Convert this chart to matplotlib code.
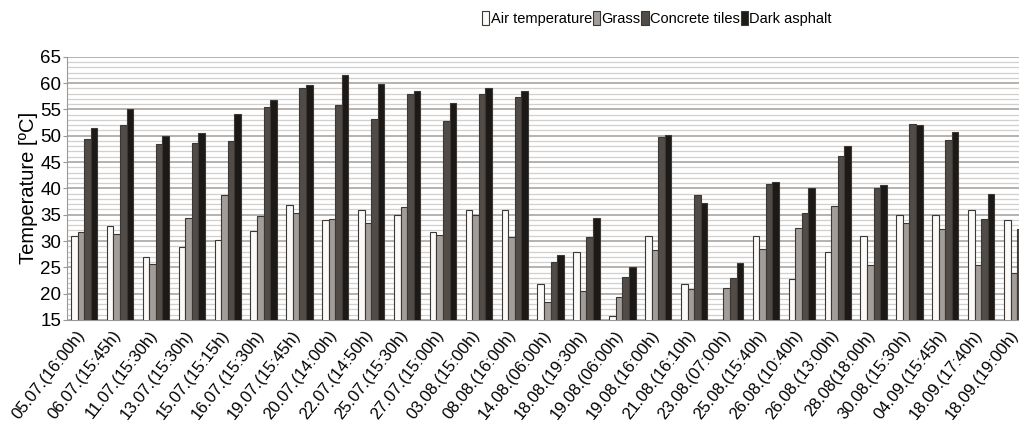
import matplotlib.pyplot as plt
from matplotlib.ticker import MultipleLocator
import numpy as np

labels = ['05.07.(16:00h)', '06.07.(15:45h)', '11.07.(15:30h)', '13.07.(15:30h)',
          '15.07.(15:15h)', '16.07.(15:30h)', '19.07.(15:45h)', '20.07.(14:00h)',
          '22.07.(14:50h)', '25.07.(15:30h)', '27.07.(15:00h)', '03.08.(15:00h)',
          '08.08.(16:00h)', '14.08.(06:00h)', '18.08.(19:30h)', '19.08.(06:00h)',
          '19.08.(16:00h)', '21.08.(16:10h)', '23.08.(07:00h)', '25.08.(15:40h)',
          '26.08.(10:40h)', '26.08.(13:00h)', '28.08(18:00h)', '30.08.(15:30h)',
          '04.09.(15:45h)', '18.09.(17:40h)', '18.09.(19:00h)']

air = [30.9, 32.9, 27.0, 28.9, 30.2, 31.9, 36.8, 34.0, 35.9, 34.9, 31.8, 35.9,
       35.9, 21.9, 27.9, 15.8, 30.9, 21.9, np.nan, 30.9, 22.8, 27.9, 30.9, 34.9,
       34.9, 35.9, 33.9]
grass = [31.8, 31.3, 25.6, 34.3, 38.8, 34.7, 35.4, 34.1, 33.4, 36.5, 31.2, 34.9,
         30.8, 18.4, 20.6, 19.4, 28.2, 20.8, 21.1, 28.4, 32.5, 36.7, 25.4, 33.5,
         32.3, 25.4, 23.9]
concrete = [49.4, 52.1, 48.4, 48.7, 48.9, 55.5, 59.1, 55.9, 53.2, 58.0, 52.8, 57.9,
            57.3, 26.1, 30.8, 23.2, 49.7, 38.7, 23.0, 40.8, 35.3, 46.2, 40.1, 52.3,
            49.1, 34.1, 32.3]
asphalt = [51.5, 55.1, 49.9, 50.6, 54.1, 56.8, 59.6, 61.5, 59.9, 58.4, 56.2, 59.1,
           58.4, 27.3, 34.3, 25.1, 50.1, 37.2, 25.9, 41.3, 40.1, 48.1, 40.6, 52.1,
           50.7, 39.0, 36.0]

series = [('Air temperature', air, '#fcfaf8'),
          ('Grass', grass, '#a29d99'),
          ('Concrete tiles', concrete, '#524c48'),
          ('Dark asphalt', asphalt, '#1c1917')]

plt.rcParams['font.family'] = ['Liberation Sans', 'DejaVu Sans']

fig = plt.figure(figsize=(10.2, 4.33), dpi=100)
ax = fig.add_axes([0.0657, 0.261, 1.0 - 0.0657, 0.608])

x = np.arange(len(labels))
w = 0.183
for k, (name, vals, col) in enumerate(series):
    ax.bar(x + (k - 1.5) * w, vals, width=w, color=col, edgecolor='#3c3835',
           linewidth=0.8, label=name, zorder=3)

ax.set_ylim(15, 65)
ax.set_xlim(-0.476, 26.08)
ax.yaxis.set_major_locator(MultipleLocator(5))
ax.yaxis.set_minor_locator(MultipleLocator(1))
ax.grid(axis='y', which='major', color='#a8a4a2', linewidth=1.2, zorder=0)
ax.grid(axis='y', which='minor', color='#d2cfcd', linewidth=0.9, zorder=0)

ax.set_xticks(x - 0.05)
ax.set_xticklabels(labels, rotation=52, ha='right', va='center',
                   rotation_mode='anchor', fontsize=12)
ax.tick_params(axis='x', length=0, pad=9)
ax.tick_params(axis='y', which='major', labelsize=13.5, length=3, color='#999999', pad=1)
ax.tick_params(axis='y', which='minor', length=0)

for s in ['top', 'right']:
    ax.spines[s].set_visible(False)
ax.spines['left'].set_color('#999999')
ax.spines['bottom'].set_color('#999999')

ax.set_ylabel('Temperature [ºC]', fontsize=14.5, labelpad=2)

fig.legend(loc='center', bbox_to_anchor=(0.644, 0.958), ncol=4, frameon=False,
           fontsize=10.5, handlelength=0.5, handleheight=1.1, handletextpad=0.1,
           columnspacing=0.05)

fig.savefig('out.png', dpi=100)
